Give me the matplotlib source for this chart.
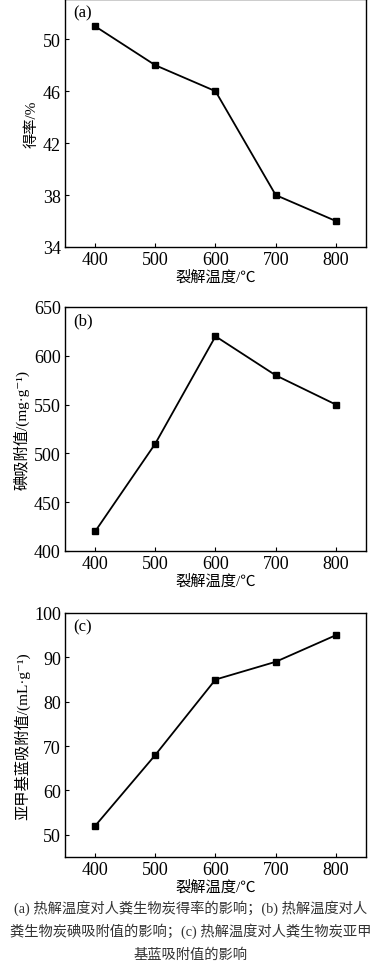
import matplotlib
matplotlib.use("Agg")
import matplotlib.pyplot as plt

plt.rcParams.update({
    "font.family": ["Liberation Serif", "Noto Sans CJK SC", "DejaVu Serif"],
    "font.size": 11,
    "axes.linewidth": 1.0,
    "xtick.direction": "in",
    "ytick.direction": "in",
    "xtick.major.size": 3,
    "ytick.major.size": 3,
})

temps = [400, 500, 600, 700, 800]
yield_pct = [51, 48, 46, 38, 36]
iodine = [420, 510, 620, 580, 550]
mb = [52, 68, 85, 89, 95]

xlabel = "裂解温度/℃"
caption = ["(a) 热解温度对人粪生物炭得率的影响；(b) 热解温度对人",
           "粪生物炭碘吸附值的影响；(c) 热解温度对人粪生物炭亚甲",
           "基蓝吸附值的影响"]

W, H = 382, 970
fig = plt.figure(figsize=(W / 100, H / 100), dpi=100)

def add_panel(top, bottom, y, ylim, yticks, ylabel, tag):
    ax = fig.add_axes([65 / W, 1 - bottom / H, (366 - 65) / W, (bottom - top) / H])
    ax.plot(temps, y, color="black", lw=1.3, marker="s", ms=4)
    ax.set_xlim(350, 850)
    ax.set_ylim(*ylim)
    ax.set_xticks(temps)
    ax.set_yticks(yticks)
    ax.tick_params(labelsize=13, pad=3)
    ax.set_xlabel(xlabel, fontsize=11, labelpad=1)
    ax.set_ylabel(ylabel, fontsize=11, labelpad=3)
    ax.text(0.027, 1 - 5 / (bottom - top), tag, transform=ax.transAxes,
            ha="left", va="top", fontsize=12)
    return ax

add_panel(0, 248, yield_pct, (34, 53.1), [34, 38, 42, 46, 50], "得率/%", "(a)")
add_panel(308, 552, iodine, (400, 650), [400, 450, 500, 550, 600, 650],
          "碘吸附值/(mg·g⁻¹)", "(b)")
add_panel(614, 858, mb, (45, 100), [50, 60, 70, 80, 90, 100],
          "亚甲基蓝吸附值/(mL·g⁻¹)", "(c)")

for i, line in enumerate(caption):
    fig.text(0.5, 1 - (908 + i * 23.5) / H, line, ha="center", va="center",
             fontsize=10.3, color="#333333")

fig.savefig("out.png", dpi=100)
